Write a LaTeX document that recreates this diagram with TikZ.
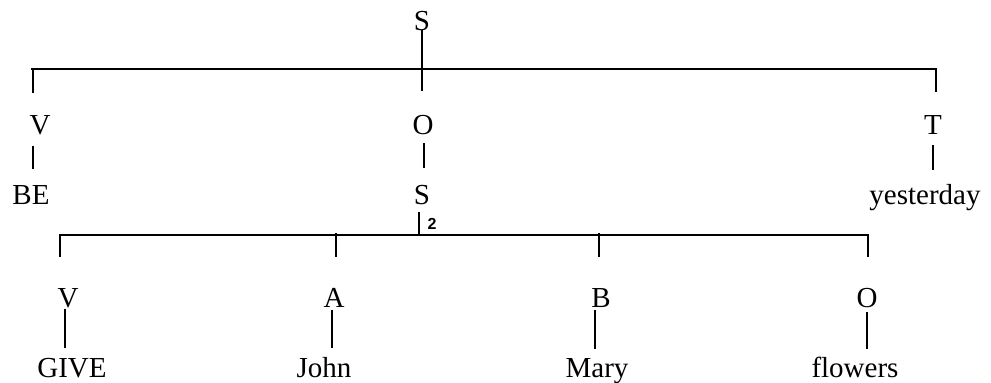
\documentclass[tikz,border=0pt]{standalone}
\usepackage{fontspec}
\setmainfont{Liberation Serif}
\newfontfamily\subfont{Liberation Sans}
\begin{document}
\begin{tikzpicture}[x=1pt,y=-1pt,
  lbl/.style={inner sep=0pt,anchor=base,font=\fontsize{29}{30}\selectfont},
  sub/.style={inner sep=0pt,anchor=base,font=\subfont\bfseries\fontsize{16}{17}\selectfont},
  conn/.style={line width=1.6pt,black}]
\useasboundingbox (0,0) rectangle (991,383);
% labels
\node[lbl] (S) at (422,30) {S};
\node[lbl] (V1) at (40,134) {V};
\node[lbl] (O1) at (423,134) {O};
\node[lbl] (T1) at (933,134) {T};
\node[lbl] (BE) at (31,204) {BE};
\node[lbl] (S2) at (422,204) {S};
\node[sub] (two) at (432,229) {2};
\node[lbl] (yest) at (925,204) {yesterday};
\node[lbl] (V2) at (68,307) {V};
\node[lbl] (A) at (334,307) {A};
\node[lbl] (B) at (601,307) {B};
\node[lbl] (O2) at (867,307) {O};
\node[lbl] (GIVE) at (72,377) {GIVE};
\node[lbl] (John) at (324,377) {John};
\node[lbl] (Mary) at (597,377) {Mary};
\node[lbl] (flowers) at (855,377) {flowers};
% coordinates
\coordinate (Sbot) at (422,91);
\coordinate (b1L) at (31,69);
\coordinate (b1R) at (937,69);
\coordinate (t1L) at (33,69);
\coordinate (t1Le) at (33,93);
\coordinate (t1R) at (936,69);
\coordinate (t1Re) at (936,92);
\coordinate (b2S) at (419,235);
\coordinate (b2L) at (59,235);
\coordinate (b2R) at (869,235);
\coordinate (t2a) at (60,235);   \coordinate (t2ae) at (60,257);
\coordinate (t2b) at (336,233);  \coordinate (t2be) at (336,257);
\coordinate (t2c) at (599,233);  \coordinate (t2ce) at (599,257);
\coordinate (t2d) at (868,235);  \coordinate (t2de) at (868,257);
% top level
\draw[conn] (S.south) -- (Sbot);
\draw[conn] (b1L) -- (b1R);
\draw[conn] (t1L) -- (t1Le);
\draw[conn] (t1R) -- (t1Re);
\draw[conn] ([xshift=-7pt,yshift=-11pt]V1.south) -- ([xshift=2pt,yshift=16pt]BE.north);
\draw[conn] ([xshift=1pt,yshift=-9pt]O1.south) -- ([xshift=2pt,yshift=17pt]S2.north);
\draw[conn] ([yshift=-11pt]T1.south) -- ([xshift=8pt,yshift=14pt]yest.north);
% second level
\draw[conn] ([xshift=-3pt,yshift=-8pt]S2.south) -- (b2S);
\draw[conn] (b2L) -- (b2R);
\draw[conn] (t2a) -- (t2ae);
\draw[conn] (t2b) -- (t2be);
\draw[conn] (t2c) -- (t2ce);
\draw[conn] (t2d) -- (t2de);
\draw[conn] ([xshift=-3pt,yshift=-1pt]V2.south) -- ([xshift=-7pt,yshift=10pt]GIVE.north);
\draw[conn] ([xshift=-2pt,yshift=-3pt]A.south) -- ([xshift=8pt,yshift=9pt]John.north);
\draw[conn] ([xshift=-6pt,yshift=-3pt]B.south) -- ([xshift=-2pt,yshift=9pt]Mary.north);
\draw[conn] ([yshift=-5pt]O2.south) -- ([xshift=12pt,yshift=7pt]flowers.north);
\end{tikzpicture}
\end{document}
